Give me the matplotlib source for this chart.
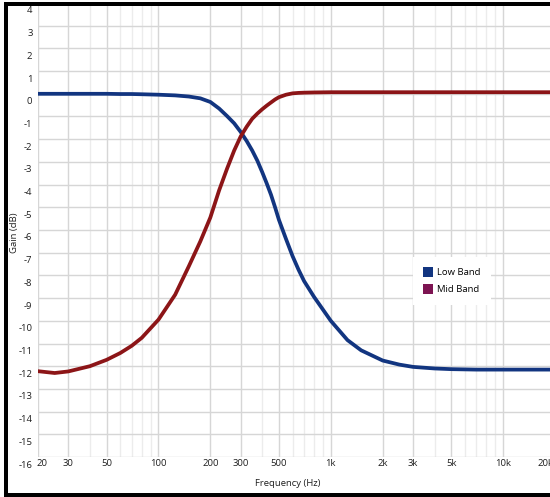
"""Low / mid band crossover gain curves, log frequency axis."""
import matplotlib
matplotlib.use("Agg")
import matplotlib.pyplot as plt
from matplotlib.patches import Patch, Rectangle
from matplotlib.transforms import ScaledTranslation

plt.rcParams["font.family"] = ["Open Sans", "DejaVu Sans"]

# values
freq_hz = [20, 25, 30, 40, 50, 60, 70, 80, 100, 125, 150, 175, 200, 225, 250,
           275, 300, 325, 350, 375, 400, 425, 450, 475, 500, 550, 600, 650,
           700, 800, 1000, 1250, 1500, 2000, 2500, 3000, 4000, 5000, 7000,
           10000, 20000]
low_band = [0.0, 0.0, 0.0, 0.0, 0.0, -0.01, -0.01, -0.02, -0.04, -0.07, -0.12,
            -0.2, -0.36, -0.65, -0.98, -1.3, -1.68, -2.08, -2.5, -2.95, -3.45,
            -3.95, -4.45, -5.0, -5.55, -6.4, -7.15, -7.75, -8.25, -8.95, -10.0,
            -10.85, -11.3, -11.75, -11.93, -12.03, -12.1, -12.13, -12.15,
            -12.15, -12.15]
mid_band = [-12.22, -12.3, -12.23, -12.0, -11.72, -11.42, -11.1, -10.75, -9.95,
            -8.85, -7.6, -6.5, -5.45, -4.25, -3.3, -2.5, -1.88, -1.45, -1.1,
            -0.87, -0.68, -0.52, -0.38, -0.25, -0.15, -0.04, 0.02, 0.04, 0.05,
            0.06, 0.07, 0.07, 0.07, 0.07, 0.07, 0.07, 0.07, 0.07, 0.07, 0.07,
            0.07]

x_major = [20, 30, 50, 100, 200, 300, 500, 1000, 2000, 3000, 5000, 10000, 20000]
x_labels = ["20", "30", "50", "100", "200", "300", "500", "1k", "2k", "3k",
            "5k", "10k", "20k"]
x_minor = [40, 60, 70, 80, 90, 400, 600, 700, 800, 900, 4000, 6000, 7000,
           8000, 9000]
y_ticks = list(range(-16, 5))

low_color = "#123580"
mid_color = "#8c1517"
mid_legend_color = "#7d1452"

W, H = 550, 497
fig = plt.figure(figsize=(W / 100, H / 100), dpi=100)
ax = fig.add_axes([38 / W, 1 - 457 / H, 517 / W, 454 / H])

ax.set_xscale("log")
ax.set_xlim(20, 20000)
ax.set_ylim(-16, 4)

for f in x_minor:
    ax.axvline(f, color="#ececec", lw=1.0, zorder=0)
for f in x_major:
    ax.axvline(f, color="#d6d6d6", lw=1.0, zorder=0)
for g in y_ticks:
    ax.axhline(g, color="#d6d6d6", lw=1.0, zorder=0)

ax.plot(freq_hz, low_band, color=low_color, lw=2.7, solid_capstyle="round",
        solid_joinstyle="round", zorder=3)
ax.plot(freq_hz, mid_band, color=mid_color, lw=2.7, solid_capstyle="round",
        solid_joinstyle="round", zorder=3)

ax.set_xticks(x_major)
ax.set_xticklabels(x_labels)
ax.xaxis.set_minor_locator(matplotlib.ticker.NullLocator())
ax.set_yticks(y_ticks)
ax.set_yticklabels([str(v) for v in y_ticks])
ax.tick_params(axis="both", length=0, labelsize=6.8, colors="#1e1e1e")
ax.tick_params(axis="x", pad=1.5)
ax.tick_params(axis="y", pad=4)
shift = ScaledTranslation(0, -0.07, fig.dpi_scale_trans)
for lab in ax.get_yticklabels():
    lab.set_transform(lab.get_transform() + shift)
xlabs = ax.get_xticklabels()
xlabs[0].set_transform(xlabs[0].get_transform() + ScaledTranslation(0.04, 0, fig.dpi_scale_trans))
xlabs[-1].set_transform(xlabs[-1].get_transform() + ScaledTranslation(-0.09, 0, fig.dpi_scale_trans))

for s in ax.spines.values():
    s.set_visible(False)

fig.text(288 / W, 1 - 483 / H, "Frequency (Hz)", ha="center", va="center",
         fontsize=6.8, color="#1e1e1e")
fig.text(15 / W, 1 - 233 / H, "Gain (dB)", ha="center", va="center",
         rotation=90, fontsize=6.8, color="#1e1e1e")

handles = [Patch(facecolor=low_color, label="Low Band"),
           Patch(facecolor=mid_legend_color, label="Mid Band")]
ax.legend(handles=handles, loc="upper left", bbox_to_anchor=(413 / W, 1 - 257 / H),
          bbox_transform=fig.transFigure, borderaxespad=0, fontsize=6.8,
          frameon=True, facecolor="white", edgecolor="none", framealpha=1,
          fancybox=False, handlelength=1.0, handleheight=1.15, handletextpad=0.4,
          labelspacing=0.75, borderpad=1.1)

# black frame of the screenshot
fig.add_artist(Rectangle((4 / W, 0), 4 / W, 1 - 2 / H, transform=fig.transFigure,
                         facecolor="black", edgecolor="none"))
fig.add_artist(Rectangle((4 / W, 1 - 6 / H), 1, 4 / H, transform=fig.transFigure,
                         facecolor="black", edgecolor="none"))
fig.add_artist(Rectangle((4 / W, 0), 1, 4 / H, transform=fig.transFigure,
                         facecolor="black", edgecolor="none"))

fig.savefig("out.png", dpi=100)
